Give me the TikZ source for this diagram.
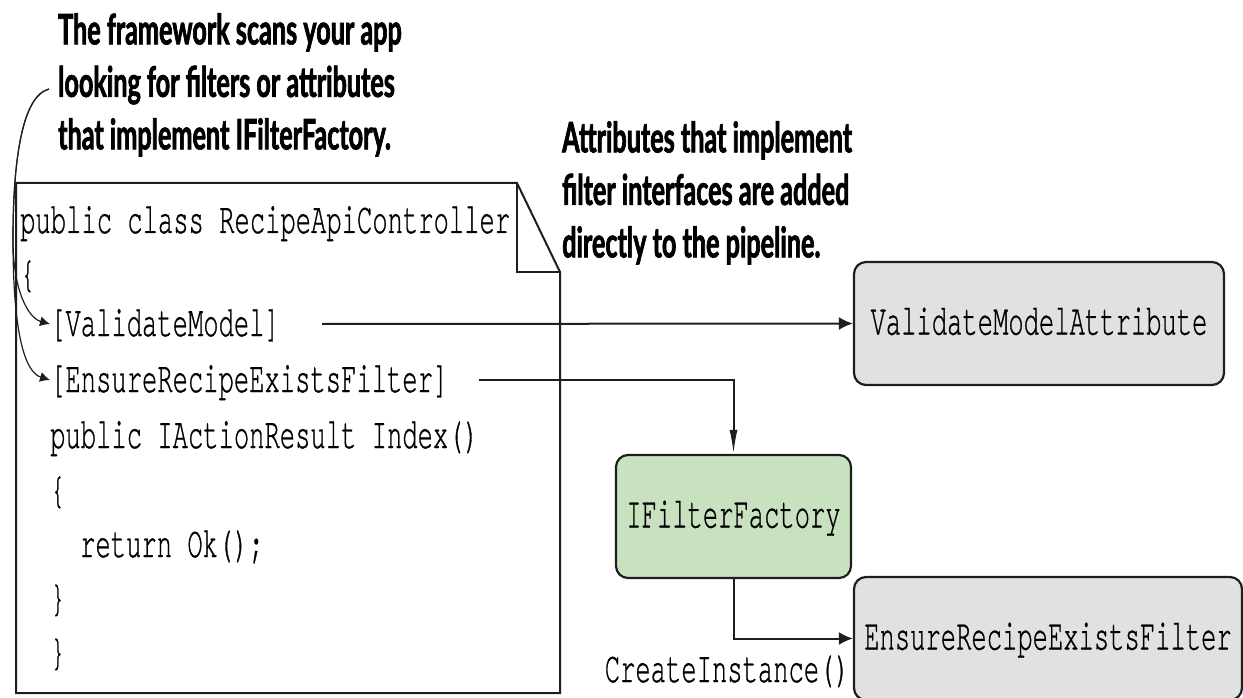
\documentclass[tikz,border=0pt]{standalone}
\usepackage{fontspec}
\usetikzlibrary{arrows.meta}
\newfontfamily\hdrfont{Lato}[FakeStretch=0.6,FakeBold=1.6]
\newfontfamily\codefont{texgyrecursor-regular.otf}[FakeStretch=0.58,FakeBold=0.7]
\definecolor{boxgray}{RGB}{224,225,224}
\definecolor{boxgreen}{RGB}{200,226,192}
\definecolor{inkline}{RGB}{30,30,30}
\begin{document}
\begin{tikzpicture}[x=1pt,y=-1pt,
  code/.style={font={\codefont\fontsize{44}{44}\selectfont}, inner sep=0pt, anchor=west, text height=28pt, text depth=4pt},
  hdr/.style={font={\hdrfont\bfseries\fontsize{42}{52.5}\selectfont}, align=left, inner sep=0pt, anchor=north west},
  fbox/.style={draw=inkline, line width=2.2pt, rounded corners=12pt, minimum height=123pt, inner sep=0pt,
    font={\codefont\fontsize{44}{44}\selectfont}, text height=22pt, text depth=0pt},
  conn/.style={draw=inkline, line width=2pt},
  htip/.style={-{Latex[length=14pt,width=13pt]}},
  vtip/.style={-{Latex[length=24pt,width=8pt]}},
  ctip/.style={draw=inkline, line width=1.2pt, -{Latex[length=10pt,width=10pt]}},
]
\useasboundingbox (0,0) rectangle (1243,698);
\clip (0,0) rectangle (1243,698);

% header notes
\node[hdr] (note1) at (58,13) {The framework scans your app\\looking for filters or attributes\\that implement IFilterFactory.};
\node[hdr] (note2) at (562,121) {Attributes that implement\\filter interfaces are added\\directly to the pipeline.};

% code sheet with folded corner
\draw[draw=inkline, line width=2pt, fill=white] (16,183) -- (517,183) -- (560,272) -- (560,693) -- (16,693) -- cycle;
\draw[draw=inkline, line width=1.6pt] (517,183) -- (517,272) -- (560,272);

% code lines
\node[code] (l1) at (20,221) {public class RecipeApiController};
\node[code] (l2) at (20,275) {\{};
\node[code] (vm) at (50,324) {[ValidateModel]};
\node[code] (er) at (50,380) {[EnsureRecipeExistsFilter]};
\node[code] (l5) at (50,436) {public IActionResult Index()};
\node[code] (l6) at (50,491) {\{};
\node[code] (l7) at (80,545) {return Ok();};
\node[code] (l8) at (50,599) {\}};
\node[code] (l9) at (50,653) {\}};

% filter boxes
\node[fbox, fill=boxgray, minimum width=370pt] (vma) at (1039,323.5) {ValidateModelAttribute};
\node[fbox, fill=boxgreen, minimum width=235pt] (iff) at (733.5,516.5) {IFilterFactory};
\node[fbox, fill=boxgray, minimum width=388pt] (erf) at (1048,638.5) {EnsureRecipeExistsFilter};
\node[code, anchor=east] (ci) at (850,670) {CreateInstance()};

% scan arrows
\coordinate (tail) at (49,89);
\coordinate (split) at (13,240);
\draw[ctip] (tail) .. controls (22,96) and (13,160) .. (split) .. controls (13,290) and (28,318) .. (vm.west);
\draw[ctip] (tail) .. controls (22,96) and (13,160) .. (split) .. controls (13,330) and (24,372) .. (er.west);

% connectors
\draw[conn, htip] ([xshift=42pt]vm.east) -- (vma.west);
\draw[conn, vtip] ([xshift=30pt]er.east) -| (iff.north);
\draw[conn, htip] (iff.south) |- (erf.west);
\end{tikzpicture}
\end{document}
